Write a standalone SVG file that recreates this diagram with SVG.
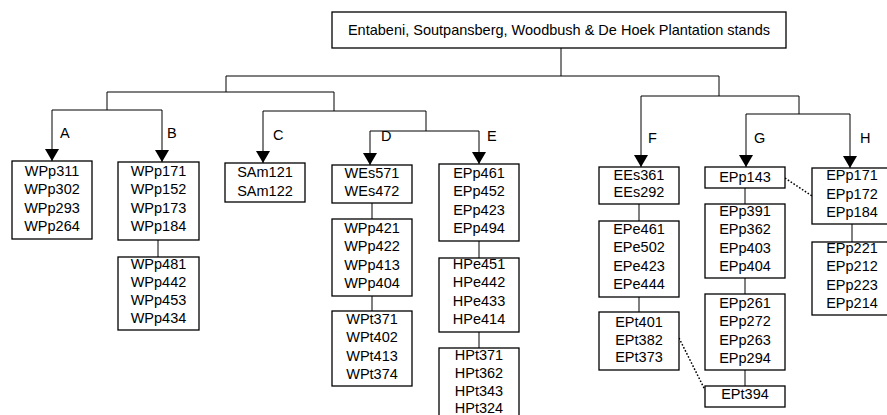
<svg xmlns="http://www.w3.org/2000/svg" width="887" height="415" viewBox="0 0 887 415">
<style>
text{font-family:"Liberation Sans",Arial,sans-serif;font-size:14.5px;fill:#000}
.n rect{fill:#fff;stroke:#000;stroke-width:1.3}
.n text{text-anchor:middle}
.c line,.c path{stroke:#000;stroke-width:1;fill:none}
.c .d{stroke-dasharray:1.6 1.8;stroke-width:1.5}
</style>
<defs>
<marker id="ar" markerUnits="userSpaceOnUse" markerWidth="13" markerHeight="14" refX="12" refY="7" orient="auto">
<path d="M0,0 L12,7 L0,14 z" fill="#000"/>
</marker>
</defs>
<g class="c" id="connectors">
<line x1="561" y1="48" x2="561" y2="76"/>
<line x1="226" y1="76" x2="719" y2="76"/>
<line x1="226" y1="76" x2="226" y2="92"/>
<line x1="107" y1="92" x2="334" y2="92"/>
<line x1="107" y1="92" x2="107" y2="110"/>
<line x1="52" y1="110" x2="162" y2="110"/>
<line x1="52" y1="110" x2="52" y2="161" marker-end="url(#ar)"/>
<line x1="162" y1="110" x2="162" y2="162" marker-end="url(#ar)"/>
<line x1="334" y1="92" x2="334" y2="111"/>
<line x1="263" y1="111" x2="426" y2="111"/>
<line x1="263" y1="111" x2="263" y2="163" marker-end="url(#ar)"/>
<line x1="426" y1="111" x2="426" y2="131"/>
<line x1="370" y1="131" x2="479" y2="131"/>
<line x1="370" y1="131" x2="370" y2="165" marker-end="url(#ar)"/>
<line x1="479" y1="131" x2="479" y2="164" marker-end="url(#ar)"/>
<line x1="719" y1="76" x2="719" y2="96"/>
<line x1="641" y1="96" x2="799" y2="96"/>
<line x1="641" y1="96" x2="641" y2="167" marker-end="url(#ar)"/>
<line x1="799" y1="96" x2="799" y2="114"/>
<line x1="746" y1="114" x2="850" y2="114"/>
<line x1="746" y1="114" x2="746" y2="167" marker-end="url(#ar)"/>
<line x1="850" y1="114" x2="850" y2="168" marker-end="url(#ar)"/>
<line x1="158" y1="240" x2="158" y2="257"/>
<line x1="372" y1="203" x2="372" y2="219"/>
<line x1="372" y1="296" x2="372" y2="311"/>
<line x1="479" y1="241" x2="479" y2="258"/>
<line x1="479" y1="332" x2="479" y2="348"/>
<line x1="639" y1="204" x2="639" y2="221"/>
<line x1="639" y1="297" x2="639" y2="312"/>
<line x1="745" y1="188" x2="745" y2="204"/>
<line x1="745" y1="278" x2="745" y2="294"/>
<line x1="745" y1="370" x2="745" y2="386"/>
<line x1="852" y1="224" x2="852" y2="242"/>
<line class="d" x1="785" y1="178" x2="812" y2="196"/>
<line class="d" x1="679" y1="338" x2="705" y2="390"/>
</g>
<g id="labels">
<text x="60" y="138">A</text>
<text x="167" y="138">B</text>
<text x="273" y="140">C</text>
<text x="381" y="141">D</text>
<text x="487" y="141">E</text>
<text x="648" y="143">F</text>
<text x="754" y="143">G</text>
<text x="860" y="143">H</text>
</g>
<g class="n" id="root"><rect x="332" y="12" width="454" height="36"/><text x="559" y="35">Entabeni, Soutpansberg, Woodbush &amp; De Hoek Plantation stands</text></g>
<g class="n" id="A"><rect x="12" y="161" width="80" height="78"/><text x="52" y="176">WPp311</text><text x="52" y="194.3">WPp302</text><text x="52" y="212.6">WPp293</text><text x="52" y="230.9">WPp264</text></g>
<g class="n" id="B1"><rect x="118" y="162" width="81" height="78"/><text x="158.5" y="176">WPp171</text><text x="158.5" y="194.3">WPp152</text><text x="158.5" y="212.6">WPp173</text><text x="158.5" y="230.9">WPp184</text></g>
<g class="n" id="B2"><rect x="118" y="257" width="81" height="73"/><text x="158.5" y="268.5">WPp481</text><text x="158.5" y="286.8">WPp442</text><text x="158.5" y="305.1">WPp453</text><text x="158.5" y="323.4">WPp434</text></g>
<g class="n" id="C"><rect x="225" y="163" width="80" height="39"/><text x="265" y="177">SAm121</text><text x="265" y="196">SAm122</text></g>
<g class="n" id="D1"><rect x="332" y="165" width="80" height="38"/><text x="372" y="178">WEs571</text><text x="372" y="196">WEs472</text></g>
<g class="n" id="D2"><rect x="332" y="219" width="80" height="77"/><text x="372" y="233">WPp421</text><text x="372" y="251.3">WPp422</text><text x="372" y="269.6">WPp413</text><text x="372" y="287.9">WPp404</text></g>
<g class="n" id="D3"><rect x="332" y="311" width="80" height="75"/><text x="372" y="324">WPt371</text><text x="372" y="342.3">WPt402</text><text x="372" y="360.6">WPt413</text><text x="372" y="378.9">WPt374</text></g>
<g class="n" id="E1"><rect x="439" y="164" width="80" height="77"/><text x="479" y="178">EPp461</text><text x="479" y="196.3">EPp452</text><text x="479" y="214.6">EPp423</text><text x="479" y="232.9">EPp494</text></g>
<g class="n" id="E2"><rect x="439" y="258" width="80" height="74"/><text x="479" y="269">HPe451</text><text x="479" y="287.3">HPe442</text><text x="479" y="305.6">HPe433</text><text x="479" y="323.9">HPe414</text></g>
<g class="n" id="E3"><rect x="439" y="348" width="80" height="80"/><text x="479" y="360">HPt371</text><text x="479" y="377.8">HPt362</text><text x="479" y="395.6">HPt343</text><text x="479" y="413.4">HPt324</text></g>
<g class="n" id="F1"><rect x="599" y="167" width="80" height="37"/><text x="639" y="180">EEs361</text><text x="639" y="197">EEs292</text></g>
<g class="n" id="F2"><rect x="599" y="221" width="80" height="76"/><text x="639" y="234">EPe461</text><text x="639" y="252.3">EPe502</text><text x="639" y="270.6">EPe423</text><text x="639" y="288.9">EPe444</text></g>
<g class="n" id="F3"><rect x="599" y="312" width="80" height="58"/><text x="639" y="327">EPt401</text><text x="639" y="344.5">EPt382</text><text x="639" y="362">EPt373</text></g>
<g class="n" id="G1"><rect x="705" y="167" width="80" height="21"/><text x="745" y="182">EPp143</text></g>
<g class="n" id="G2"><rect x="705" y="204" width="80" height="74"/><text x="745" y="216">EPp391</text><text x="745" y="234.3">EPp362</text><text x="745" y="252.6">EPp403</text><text x="745" y="270.9">EPp404</text></g>
<g class="n" id="G3"><rect x="705" y="294" width="80" height="76"/><text x="745" y="308">EPp261</text><text x="745" y="326.3">EPp272</text><text x="745" y="344.6">EPp263</text><text x="745" y="362.9">EPp294</text></g>
<g class="n" id="G4"><rect x="705" y="386" width="80" height="21"/><text x="745" y="399">EPt394</text></g>
<g class="n" id="H1"><rect x="812" y="168" width="80" height="56"/><text x="852" y="180">EPp171</text><text x="852" y="198.5">EPp172</text><text x="852" y="217">EPp184</text></g>
<g class="n" id="H2"><rect x="812" y="242" width="80" height="73"/><text x="852" y="253">EPp221</text><text x="852" y="271.3">EPp212</text><text x="852" y="289.6">EPp223</text><text x="852" y="307.9">EPp214</text></g>
</svg>
